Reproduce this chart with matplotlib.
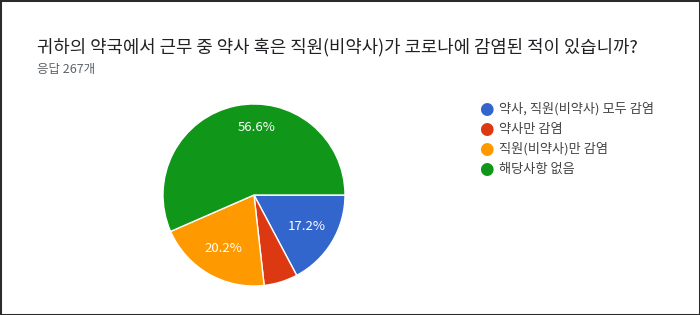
import matplotlib
matplotlib.use("Agg")
import matplotlib.pyplot as plt
from matplotlib.patches import Rectangle

plt.rcParams["font.family"] = ["Noto Sans CJK KR", "DejaVu Sans"]

# data (267 responses)
TITLE = "귀하의 약국에서 근무 중 약사 혹은 직원(비약사)가 코로나에 감염된 적이 있습니까?"
SUBTITLE = "응답 267개"
labels = ["약사, 직원(비약사) 모두 감염", "약사만 감염", "직원(비약사)만 감염", "해당사항 없음"]
counts = [46, 16, 54, 151]
colors = ["#3366CC", "#DC3912", "#FF9900", "#109618"]

W, H = 700, 315
fig = plt.figure(figsize=(W / 100, H / 100), dpi=100)
fig.patch.set_facecolor("white")

# frame around the card
fig.patches.append(Rectangle((0, 0), 1, 1, transform=fig.transFigure,
                             fill=False, edgecolor="#2b2b2b", linewidth=2.2))

fig.text(37 / W, 1 - 47 / H, TITLE, fontsize=12.8, color="#202124",
         va="center", ha="left")
fig.text(37 / W, 1 - 70 / H, SUBTITLE, fontsize=9, color="#5f6368",
         va="center", ha="left")

# pie: centre (254,195), radius ~91 px
cx, cy, r = 254, 195, 91
ax = fig.add_axes([(cx - r) / W, 1 - (cy + r) / H, 2 * r / W, 2 * r / H])


def fmt(p):
    return f"{p:.1f}%" if p >= 10 else ""


wedges, _, autotexts = ax.pie(counts, colors=colors, startangle=0,
                              counterclock=False, autopct=fmt,
                              pctdistance=0.68,
                              wedgeprops=dict(edgecolor="white", linewidth=1),
                              textprops=dict(color="white", fontsize=9.5))
ax.set_aspect("equal")
ax.set_xlim(-1, 1)
ax.set_ylim(-1, 1)
# big slice label sits a bit closer to the top in the original
autotexts[3].set_position((0.03, 0.74))

# legend
for i, (lab, col) in enumerate(zip(labels, colors)):
    y = 1 - (109 + 20 * i) / H
    fig.text(486 / W, y, "\u25CF", color=col, fontsize=12, va="center",
             ha="center", family="DejaVu Sans")
    fig.text(499 / W, y, lab, color="#444444", fontsize=9.5, va="center",
             ha="left")

fig.savefig("out.png", dpi=100, facecolor="white")
